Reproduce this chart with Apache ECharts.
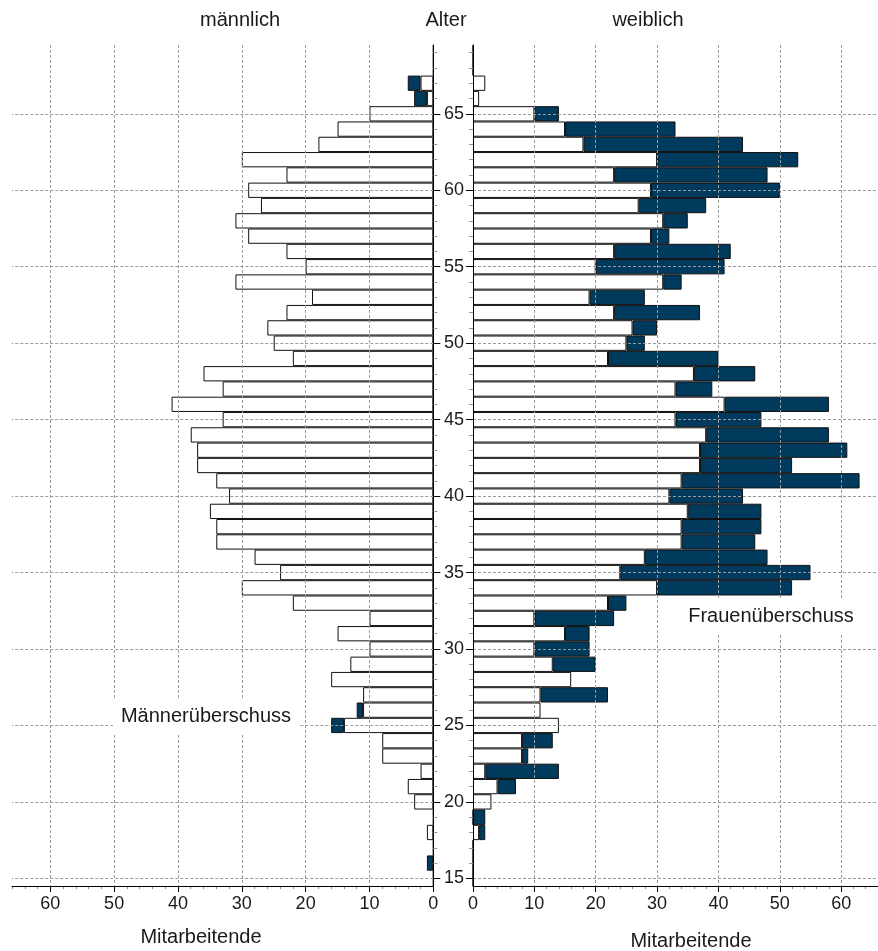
<!DOCTYPE html>
<html>
<head>
<meta charset="utf-8">
<script src="https://cdn.jsdelivr.net/npm/echarts@6/dist/echarts.min.js"></script>
<style>
html,body{margin:0;padding:0;background:#fff;}
#chart{width:878px;height:951px;}
</style>
</head>
<body>
<div id="chart"></div>
<script>
// Age categories (bottom to top)
const ages = [];
for (let a = 15; a <= 69; a++) ages.push(String(a));

// Head counts per age 15..69
const male = [0,1,0,1,0,3,4,2,8,8,16,12,11,16,13,10,15,10,22,30,24,28,34,34,35,32,34,37,37,38,33,41,33,36,22,25,26,23,19,31,20,23,29,31,27,29,23,30,18,15,10,3,4,0,0];
const female = [0,0,0,2,2,3,7,14,9,13,14,11,22,16,20,19,19,23,25,52,55,48,46,47,47,44,63,52,61,58,47,58,39,46,40,28,30,37,28,34,41,42,32,35,38,50,48,53,44,33,14,1,2,0,0];

const ageGridLines = ['15','20','25','30','35','40','45','50','55','60','65'];
const xTicks = [0,10,20,30,40,50,60];

const common = male.map((m, i) => Math.min(m, female[i]));
const maleSurplus = male.map((m, i) => (m - female[i] > 0 ? m - female[i] : null));
const femaleSurplus = female.map((f, i) => (f - male[i] > 0 ? f - male[i] : null));

const FONT = '"Liberation Sans", Arial, sans-serif';
const TXT = '#1a1a1a';
const GRIDC = '#9a9a9a';
const DARK = '#003a5c';
const isMajor = (i, v) => Number(v) % 5 === 0;

function xMain(gridIndex, inverse) {
  return {
    type: 'value', gridIndex, inverse, position: 'bottom', min: 0, max: 66, interval: 10, z: 5,
    axisLine: {show: true, onZero: false, lineStyle: {color: '#000', width: 1}},
    axisTick: {show: true, length: 6, lineStyle: {color: '#000', width: 1}},
    axisLabel: {show: true, margin: 9, fontSize: 18, fontFamily: FONT, color: TXT, showMaxLabel: false,
      formatter: v => (xTicks.indexOf(v) >= 0 ? String(v) : '')},
    splitLine: {show: true, showMinLine: false, showMaxLine: false,
      lineStyle: {color: GRIDC, width: 1, type: [3, 2]}}
  };
}
function xMinor(gridIndex, inverse) {
  return {
    type: 'value', gridIndex, inverse, position: 'bottom', offset: 0, min: 0, max: 66, interval: 2, z: 4,
    axisLine: {show: false, onZero: false},
    axisTick: {show: true, length: 3, lineStyle: {color: '#888', width: 1}},
    axisLabel: {show: false},
    splitLine: {show: false}
  };
}
function yMinor(gridIndex, position) {
  return {
    type: 'category', gridIndex, position, data: ages, boundaryGap: true, z: 5,
    axisLine: {show: true, onZero: false, lineStyle: {color: '#000', width: 1}},
    axisTick: {show: true, alignWithLabel: true, interval: 0, length: 4, lineStyle: {color: '#999', width: 1}},
    axisLabel: {show: false},
    splitLine: {show: false}
  };
}
function yMajor(gridIndex, position, showLabel) {
  return {
    type: 'category', gridIndex, position, data: ages, boundaryGap: true, z: 6,
    axisLine: {show: false, onZero: false},
    axisTick: {show: true, alignWithLabel: true, interval: isMajor, length: 7, lineStyle: {color: '#000', width: 1}},
    axisLabel: {show: showLabel, interval: isMajor, margin: 9, fontSize: 18, fontFamily: FONT, color: TXT},
    splitLine: {show: false}
  };
}
const markLines = {
  silent: true, symbol: ['none', 'none'], animation: false,
  label: {show: false},
  lineStyle: {color: GRIDC, width: 1, type: [3, 2]},
  emphasis: {disabled: true},
  data: ageGridLines.map(a => ({yAxis: a}))
};
const barBase = {type: 'bar', barWidth: '100%', barCategoryGap: 0, animation: false, silent: true};

const option = {
  animation: false,
  backgroundColor: '#fff',
  grid: [
    {left: 12, right: 444.7, top: 45, bottom: 65},
    {left: 473, right: -8.6, top: 45, bottom: 65}
  ],
  xAxis: [xMain(0, true), xMinor(0, true), xMain(1, false), xMinor(1, false)],
  yAxis: [yMinor(0, 'right'), yMajor(0, 'right', false), yMinor(1, 'left'), yMajor(1, 'left', true)],
  series: [
    Object.assign({}, barBase, {name: 'mCommon', xAxisIndex: 0, yAxisIndex: 0, stack: 'm', data: common,
      itemStyle: {color: '#fff', borderColor: '#111', borderWidth: 1}, markLine: markLines}),
    Object.assign({}, barBase, {name: 'mSurplus', xAxisIndex: 0, yAxisIndex: 0, stack: 'm', data: maleSurplus,
      itemStyle: {color: DARK, borderColor: '#111', borderWidth: 1}}),
    Object.assign({}, barBase, {name: 'fCommon', xAxisIndex: 2, yAxisIndex: 2, stack: 'f', data: common,
      itemStyle: {color: '#fff', borderColor: '#111', borderWidth: 1}, markLine: markLines}),
    Object.assign({}, barBase, {name: 'fSurplus', xAxisIndex: 2, yAxisIndex: 2, stack: 'f', data: femaleSurplus,
      itemStyle: {color: DARK, borderColor: '#111', borderWidth: 1}})
  ],
  graphic: [
    {type: 'text', x: 240, y: 20, z: 100, style: {text: 'männlich', font: '20px ' + FONT, fill: TXT, align: 'center', verticalAlign: 'middle'}},
    {type: 'text', x: 446, y: 20, z: 100, style: {text: 'Alter', font: '20px ' + FONT, fill: TXT, align: 'center', verticalAlign: 'middle'}},
    {type: 'text', x: 648, y: 20, z: 100, style: {text: 'weiblich', font: '20px ' + FONT, fill: TXT, align: 'center', verticalAlign: 'middle'}},
    {type: 'text', x: 201, y: 937, z: 100, style: {text: 'Mitarbeitende', font: '20px ' + FONT, fill: TXT, align: 'center', verticalAlign: 'middle'}},
    {type: 'text', x: 691, y: 941, z: 100, style: {text: 'Mitarbeitende', font: '20px ' + FONT, fill: TXT, align: 'center', verticalAlign: 'middle'}},
    {type: 'text', x: 206, y: 716, z: 100, style: {text: 'Männerüberschuss', font: '20px ' + FONT, fill: TXT, align: 'center', verticalAlign: 'middle', backgroundColor: '#fff', padding: [6, 8, 8, 8]}},
    {type: 'text', x: 771, y: 616, z: 100, style: {text: 'Frauenüberschuss', font: '20px ' + FONT, fill: TXT, align: 'center', verticalAlign: 'middle', backgroundColor: '#fff', padding: [6, 8, 8, 8]}}
  ]
};

const chart = echarts.init(document.getElementById('chart'), null, {renderer: 'canvas'});
chart.setOption(option);
</script>
</body>
</html>
